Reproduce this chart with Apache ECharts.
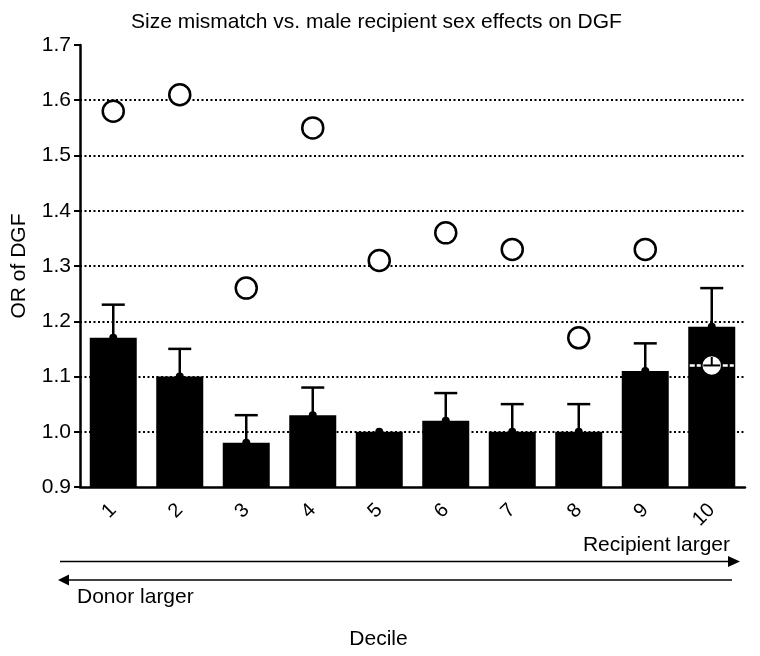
<!DOCTYPE html>
<html>
<head>
<meta charset="utf-8">
<script src="https://cdn.jsdelivr.net/npm/echarts@6/dist/echarts.min.js"></script>
<style>html,body{margin:0;padding:0;background:#fff}#c{width:760px;height:656px}</style>
</head>
<body>
<div id="c"></div>
<script>
var deciles = ['1','2','3','4','5','6','7','8','9','10'];
var barValues = [1.17, 1.10, 0.98, 1.03, 1.00, 1.02, 1.00, 1.00, 1.11, 1.19];
var errUpper = [1.23, 1.15, 1.03, 1.08, 1.00, 1.07, 1.05, 1.05, 1.16, 1.26];
var circleValues = [1.58, 1.61, 1.26, 1.55, 1.31, 1.36, 1.33, 1.17, 1.33, 1.12];
var yTicks = {min: 0.9, max: 1.7, interval: 0.1};

var FONT = 'Liberation Sans, Arial, Helvetica, sans-serif';
var chart = echarts.init(document.getElementById('c'), null, {renderer: 'canvas'});

var errData = deciles.map(function (d, i) { return [i, barValues[i], errUpper[i]]; });
var circleData = circleValues.map(function (v, i) {
  return [i, v];
});

chart.setOption({
  animation: false,
  title: {
    text: 'Size mismatch vs. male recipient sex effects on DGF',
    left: 126, top: 7,
    textStyle: {fontFamily: FONT, fontSize: 21, fontWeight: 'normal', color: '#000'}
  },
  grid: {left: 80, right: 15, top: 45, bottom: 169, containLabel: false},
  xAxis: {
    type: 'category',
    data: deciles,
    name: 'Decile',
    nameLocation: 'middle',
    nameGap: 142,
    nameTextStyle: {fontFamily: FONT, fontSize: 21, color: '#000', padding: [0, 68, 0, 0]},
    axisLine: {lineStyle: {color: '#000', width: 2.5}},
    axisTick: {alignWithLabel: true, length: 6, lineStyle: {color: '#000', width: 2}},
    axisLabel: {rotate: 45, fontFamily: FONT, fontSize: 20, color: '#000', margin: 20}
  },
  yAxis: {
    type: 'value',
    min: yTicks.min, max: yTicks.max, interval: yTicks.interval,
    name: 'OR of DGF',
    nameLocation: 'middle',
    nameRotate: 90,
    nameGap: 50,
    nameTextStyle: {fontFamily: FONT, fontSize: 21, color: '#000'},
    axisLine: {show: true, lineStyle: {color: '#000', width: 2.5}},
    axisTick: {show: true, length: 6, lineStyle: {color: '#000', width: 2}},
    axisLabel: {fontFamily: FONT, fontSize: 21, color: '#000', margin: 9,
      formatter: function (v) { return v.toFixed(1); }},
    splitLine: {show: true, showMinLine: false, showMaxLine: false,
      lineStyle: {color: '#000', width: 2, type: [2, 2.5]}}
  },
  series: [
    {
      type: 'bar',
      data: barValues,
      barWidth: 47,
      itemStyle: {color: '#000'},
      z: 3
    },
    {
      type: 'custom',
      data: errData,
      z: 4,
      renderItem: function (params, api) {
        var x = api.value(0), v = api.value(1), e = api.value(2);
        var p0 = api.coord([x, v]);
        var p1 = api.coord([x, e]);
        var children = [
          {type: 'circle', shape: {cx: p0[0], cy: p0[1], r: 4}, style: {fill: '#000'}}
        ];
        if (e > v) {
          children.push({type: 'line', shape: {x1: p0[0], y1: p0[1], x2: p1[0], y2: p1[1]},
            style: {stroke: '#000', lineWidth: 2.5}});
          children.push({type: 'line', shape: {x1: p1[0] - 11.5, y1: p1[1], x2: p1[0] + 11.5, y2: p1[1]},
            style: {stroke: '#000', lineWidth: 2.5}});
        }
        return {type: 'group', children: children};
      }
    },
    {
      type: 'scatter',
      data: circleData,
      symbol: 'circle',
      symbolSize: 21,
      itemStyle: {color: '#fff', borderColor: '#000', borderWidth: 2.5, opacity: 1},
      z: 5
    },
    {
      type: 'custom',
      data: [circleData[9]],
      z: 6,
      renderItem: function (params, api) {
        var p = api.coord([api.value(0), api.value(1)]);
        return {type: 'group', children: [
          {type: 'line', shape: {x1: p[0] - 22, y1: p[1], x2: p[0] - 11, y2: p[1]},
            style: {stroke: '#fff', lineWidth: 2.5, lineDash: [5, 2]}},
          {type: 'line', shape: {x1: p[0] + 11, y1: p[1], x2: p[0] + 22, y2: p[1]},
            style: {stroke: '#fff', lineWidth: 2.5, lineDash: [5, 2]}},
          {type: 'line', shape: {x1: p[0] - 8.5, y1: p[1], x2: p[0] + 8.5, y2: p[1]},
            style: {stroke: '#000', lineWidth: 2}},
          {type: 'line', shape: {x1: p[0], y1: p[1] - 8.5, x2: p[0], y2: p[1]},
            style: {stroke: '#000', lineWidth: 2}}
        ]};
      }
    }
  ],
  graphic: [
    {type: 'line', shape: {x1: 60, y1: 561.5, x2: 730, y2: 561.5}, style: {stroke: '#000', lineWidth: 1.5}},
    {type: 'polygon', shape: {points: [[728, 556], [740, 561.5], [728, 567]]}, style: {fill: '#000'}},
    {type: 'text', right: 30, top: 535, style: {text: 'Recipient larger', font: '21px ' + FONT, fill: '#000', textAlign: 'right'}},
    {type: 'line', shape: {x1: 68, y1: 580, x2: 732, y2: 580}, style: {stroke: '#000', lineWidth: 1.5}},
    {type: 'polygon', shape: {points: [[58, 580], [69, 574.5], [69, 585.5]]}, style: {fill: '#000'}},
    {type: 'text', left: 77, top: 587, style: {text: 'Donor larger', font: '21px ' + FONT, fill: '#000'}}
  ]
});
</script>
</body>
</html>
